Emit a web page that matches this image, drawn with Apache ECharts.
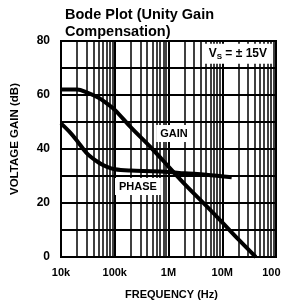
<!DOCTYPE html>
<html>
<head>
<meta charset="utf-8">
<script src="https://cdn.jsdelivr.net/npm/echarts@6/dist/echarts.min.js"></script>
<style>
html,body{margin:0;padding:0;background:#fff;overflow:hidden;}
#ech1{width:281px;height:307px;}
</style>
</head>
<body>
<div id="ech1"></div>
<script>
// 增益曲线 (频率 Hz / dB)
var gainFreq = [1e4, 2e4, 3e4, 5e4, 7e4, 1e5, 2e5, 5e5, 1e6, 2e6, 5e6, 1e7, 2e7, 4.2e7];
var gainDb = [62, 62, 61, 59, 57, 54.5, 48, 40, 33.5, 27, 19, 12.8, 6.5, 0];
// 相位曲线
var phaseFreq = [1e4, 1.5e4, 2e4, 3e4, 5e4, 7e4, 1e5, 2e5, 5e5, 1e6, 2e6, 5e6, 1.5e7];
var phaseDb = [49.5, 46, 43, 38.5, 35, 33.5, 32.5, 32, 31.8, 31.5, 31, 30.5, 29.5];
// 刻度
var xTickLabels = ['10k', '100k', '1M', '10M', '100M'];
var yTickLabels = ['0', '20', '40', '60', '80'];
// 对数网格 (每个十倍频程 2..9)
var minorMult = [2, 3, 4, 5, 6, 7, 8, 9];
var decades = [1e4, 1e5, 1e6, 1e7];

var font = '"Liberation Sans", Arial, sans-serif';

function pairs(xs, ys) {
	var out = [];
	for (var i = 0; i < xs.length; i++) out.push([xs[i], ys[i]]);
	return out;
}

var gridLines = [];
for (var d = 0; d < decades.length; d++) {
	for (var m = 0; m < minorMult.length; m++) {
		gridLines.push({ xAxis: decades[d] * minorMult[m] });
	}
}

var myChart1 = echarts.init(document.getElementById('ech1'), null, { renderer: 'canvas' });

var option = {
	animation: false,
	backgroundColor: '#fff',
	title: {
		text: 'Bode Plot (Unity Gain\nCompensation)',
		left: 60,
		top: 1,
		textStyle: { fontFamily: font, fontWeight: 'bold', fontSize: 14.5, color: '#000', lineHeight: 17 }
	},
	grid: {
		left: 61, right: 5, top: 41, bottom: 50,
		show: true, borderColor: '#000', borderWidth: 2,
		containLabel: false, outerBoundsMode: 'none'
	},
	xAxis: {
		type: 'log',
		logBase: 10,
		min: 1e4,
		max: 1e8,
		name: 'FREQUENCY (Hz)',
		nameLocation: 'middle',
		nameGap: 32,
		nameTextStyle: { fontFamily: font, fontWeight: 'bold', fontSize: 11, color: '#000', padding: [0, 0, 0, 6] },
		axisLine: { show: false },
		axisTick: { show: false },
		axisLabel: {
			fontFamily: font, fontWeight: 'bold', fontSize: 11, color: '#000', margin: 10,
			formatter: function(v) { return xTickLabels[Math.round(Math.log10(v)) - 4]; }
		},
		splitLine: { show: true, lineStyle: { color: '#000', width: 2 } }
	},
	yAxis: {
		type: 'value',
		min: 0,
		max: 80,
		interval: 10,
		name: 'VOLTAGE GAIN (dB)',
		nameLocation: 'middle',
		nameGap: 40,
		nameTextStyle: { fontFamily: font, fontWeight: 'bold', fontSize: 11.5, color: '#000', padding: [0, 0, 0, 20] },
		axisLine: { show: false },
		axisTick: { show: false },
		axisLabel: {
			fontFamily: font, fontWeight: 'bold', fontSize: 12, color: '#000', margin: 11,
			formatter: function(v) { return v % 20 === 0 ? yTickLabels[v / 20] : ''; }
		},
		splitLine: { show: true, lineStyle: { color: '#000', width: 2 } }
	},
	series: [{
		name: 'grid',
		type: 'line',
		data: [],
		z: 1,
		silent: true,
		markLine: {
			silent: true,
			z: 1,
			symbol: ['none', 'none'],
			label: { show: false },
			lineStyle: { color: '#000', width: 1.5, type: 'solid' },
			data: gridLines
		}
	}, {
		name: 'GAIN',
		type: 'line',
		z: 5,
		data: pairs(gainFreq, gainDb),
		smooth: 0.35,
		showSymbol: false,
		clip: true,
		lineStyle: { color: '#000', width: 4 },
		markPoint: {
			symbol: 'rect',
			symbolSize: 1,
			itemStyle: { color: '#fff' },
			label: {
				show: true,
				position: 'inside',
				backgroundColor: '#fff',
				padding: [3, 4],
				color: '#000',
				fontFamily: font,
				fontWeight: 'bold',
				fontSize: 11,
				rich: {
					v: { fontFamily: font, fontWeight: 'bold', fontSize: 12, color: '#000' },
					s: { fontFamily: font, fontWeight: 'bold', fontSize: 8, color: '#000', padding: [6, 0, 0, 0] }
				}
			},
			data: [
				{ coord: [1.26e6, 45.7], label: { formatter: 'GAIN' } },
				{ coord: [2.7e5, 26.1], label: { formatter: 'PHASE' } },
				{ coord: [1.95e7, 75.3], label: { formatter: '{v|V}{s|S}{v| = ± 15V}', padding: [3, 5] } }
			]
		}
	}, {
		name: 'PHASE',
		type: 'line',
		z: 5,
		data: pairs(phaseFreq, phaseDb),
		smooth: 0.35,
		showSymbol: false,
		lineStyle: { color: '#000', width: 4 }
	}]
};

myChart1.setOption(option);
</script>
</body>
</html>
